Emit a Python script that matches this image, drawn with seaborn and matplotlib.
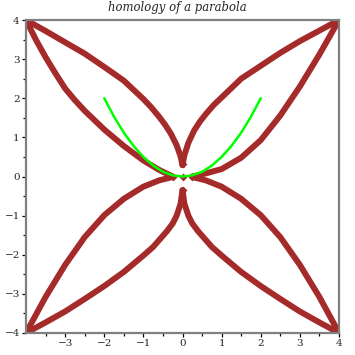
import numpy as np
import pandas as pd
import matplotlib
matplotlib.use("Agg")
import matplotlib.pyplot as plt
import seaborn as sns

# Green parabola (y = x^2/2)
par_x = [-2.0, -1.75, -1.5, -1.25, -1.0, -0.75, -0.5, -0.25, 0.0, 0.25, 0.5, 0.75, 1.0, 1.25, 1.5, 1.75, 2.0]
par_y = [2.0, 1.53, 1.12, 0.78, 0.5, 0.28, 0.12, 0.03, 0.0, 0.03, 0.12, 0.28, 0.5, 0.78, 1.12, 1.53, 2.0]

# Brown "homology" curves
ul_top_x = [-4.0, -3.5, -3.0, -2.5, -2.0, -1.5, -1.0, -0.8, -0.6, -0.45, -0.3, -0.15, -0.05, 0.0]
ul_top_y = [4.0, 3.72, 3.43, 3.14, 2.80, 2.45, 1.98, 1.77, 1.53, 1.33, 1.10, 0.80, 0.52, 0.29]
ul_bot_x = [-4.0, -3.75, -3.5, -3.25, -3.0, -2.75, -2.5, -2.0, -1.5, -1.0, -0.6, -0.25]
ul_bot_y = [4.0, 3.50, 3.05, 2.64, 2.25, 1.95, 1.68, 1.20, 0.78, 0.41, 0.17, 0.0]
ur_top_x = [0.0, 0.05, 0.15, 0.3, 0.45, 0.6, 0.8, 1.0, 1.5, 2.0, 2.5, 3.0, 3.5, 4.0]
ur_top_y = [0.29, 0.55, 0.86, 1.18, 1.41, 1.60, 1.83, 2.02, 2.50, 2.83, 3.16, 3.46, 3.73, 4.0]
ur_bot_x = [0.25, 0.6, 1.0, 1.5, 2.0, 2.5, 3.0, 3.5, 4.0]
ur_bot_y = [0.0, 0.08, 0.19, 0.48, 0.93, 1.56, 2.30, 3.12, 4.0]
ll_top_x = [-0.28, -0.6, -1.0, -1.5, -2.0, -2.5, -3.0, -3.5, -4.0]
ll_top_y = [-0.02, -0.10, -0.26, -0.57, -0.99, -1.55, -2.26, -3.08, -4.0]
ll_bot_x = [0.0, -0.05, -0.15, -0.25, -0.4, -0.75, -1.0, -1.5, -2.0, -2.5, -3.0, -3.5, -4.0]
ll_bot_y = [-0.35, -0.70, -1.0, -1.20, -1.40, -1.80, -2.02, -2.44, -2.80, -3.13, -3.45, -3.73, -4.0]
lr_top_x = [0.28, 0.6, 1.0, 1.5, 2.0, 2.5, 3.0, 3.5, 4.0]
lr_top_y = [-0.02, -0.10, -0.26, -0.57, -0.99, -1.55, -2.26, -3.08, -4.0]
lr_bot_x = [0.0, 0.05, 0.15, 0.25, 0.4, 0.75, 1.0, 1.5, 2.0, 2.5, 3.0, 3.5, 4.0]
lr_bot_y = [-0.35, -0.70, -1.0, -1.20, -1.40, -1.80, -2.02, -2.44, -2.80, -3.13, -3.45, -3.73, -4.0]

curves = {
    "ul_top": (ul_top_x, ul_top_y), "ul_bot": (ul_bot_x, ul_bot_y),
    "ur_top": (ur_top_x, ur_top_y), "ur_bot": (ur_bot_x, ur_bot_y),
    "ll_top": (ll_top_x, ll_top_y), "ll_bot": (ll_bot_x, ll_bot_y),
    "lr_top": (lr_top_x, lr_top_y), "lr_bot": (lr_bot_x, lr_bot_y),
}

dot_x = [0.0, 0.0, 0.0, -0.25, 0.25]
dot_y = [0.0, 0.32, -0.35, 0.0, 0.0]

x_ticks = [-3, -2, -1, 0, 1, 2, 3, 4]
y_ticks = [-4, -3, -2, -1, 0, 1, 2, 3, 4]

frames = []
for name, (xs, ys) in curves.items():
    frames.append(pd.DataFrame({"x": xs, "y": ys, "curve": name}))
brown_df = pd.concat(frames, ignore_index=True)
par_df = pd.DataFrame({"x": par_x, "y": par_y})

sns.set_style("white")
plt.rcParams["font.family"] = ["DejaVu Serif"]

fig = plt.figure(figsize=(3.55, 3.55), dpi=100)
ax = fig.add_axes([26/355, 1 - 333/355, (339 - 26)/355, (333 - 20)/355])

BROWN = "#a52a2a"
for name in curves:
    sub = brown_df[brown_df["curve"] == name]
    sns.lineplot(data=sub, x="x", y="y", sort=False, estimator=None, ax=ax,
                 color=BROWN, lw=4.3, solid_capstyle="round", solid_joinstyle="round",
                 legend=False)
sns.scatterplot(x=dot_x, y=dot_y, ax=ax, color=BROWN, s=16, marker="D",
                edgecolor=BROWN, linewidth=0, legend=False, zorder=4)
sns.lineplot(data=par_df, x="x", y="y", sort=False, estimator=None, ax=ax,
             color="#00ff00", lw=1.8, legend=False, zorder=5)

ax.set_xlim(-4, 4)
ax.set_ylim(-4, 4)
ax.set_xticks(x_ticks)
ax.set_yticks(y_ticks)
ax.set_xticks(np.arange(-3.5, 4.0, 1.0), minor=True)
ax.set_yticks(np.arange(-3.5, 4.0, 1.0), minor=True)
ax.set_xticklabels([("\u2212%d" % -v) if v < 0 else str(v) for v in x_ticks])
ax.set_yticklabels([("\u2212%d" % -v) if v < 0 else str(v) for v in y_ticks])
ax.tick_params(axis="both", which="both", direction="out", color="black",
               labelsize=7.5, pad=1.5, bottom=True, left=True)
ax.tick_params(which="major", length=3, width=0.9)
ax.tick_params(which="minor", length=2.5, width=0.9)
ax.set_xlabel("")
ax.set_ylabel("")
for sp in ax.spines.values():
    sp.set_color("#808080")
    sp.set_linewidth(1.6)
    sp.set_visible(True)

fig.text(0.5, 1 - 8/355, "homology of a parabola", ha="center", va="center",
         fontsize=8.4, style="italic", family="DejaVu Serif")

fig.savefig("out.png", dpi=100)
